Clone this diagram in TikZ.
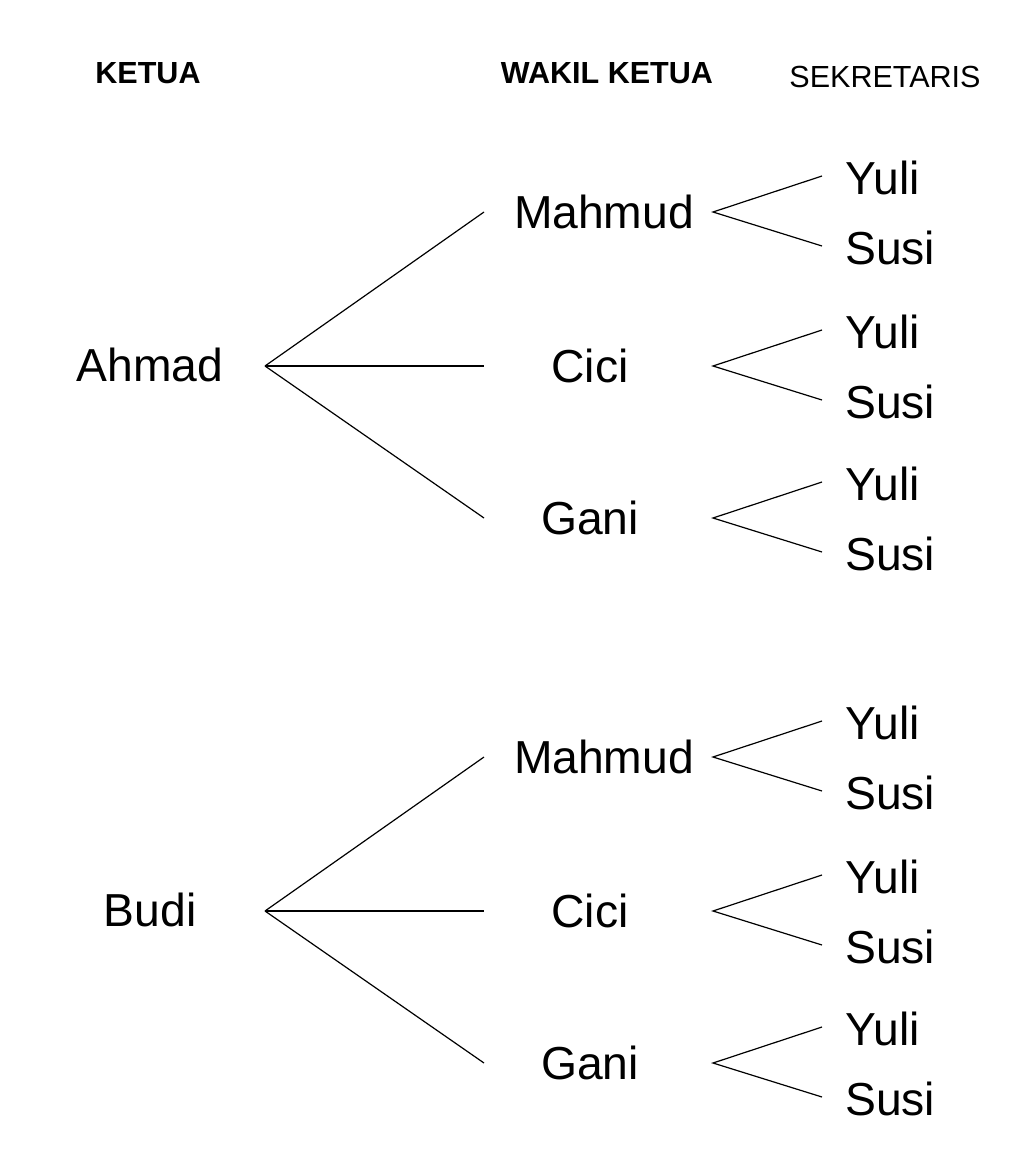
\documentclass[tikz,border=0pt]{standalone}
\usepackage{fontspec}
\setmainfont{Liberation Sans}
\begin{document}
\begin{tikzpicture}[x=0.75pt,y=-0.75pt,
  head/.style={font=\fontsize{22.9}{26}\selectfont\bfseries, inner sep=0pt},
  headn/.style={font=\fontsize{22.9}{26}\selectfont, inner sep=0pt},
  big/.style={font=\fontsize{34.7}{40}\selectfont, inner sep=0pt},
  leaf/.style={font=\fontsize{34.7}{40}\selectfont, inner sep=0pt, anchor=west},
  conn/.style={line width=0.9pt}]
\useasboundingbox (0,0) rectangle (1023,1161);
\fill[white] (0,0) rectangle (1023,1161);
\node[head] (hk) at (148,73) {KETUA};
\node[head] (hw) at (607,73) {WAKIL KETUA};
\node[headn] (hs) at (885,77) {SEKRETARIS};

\foreach \lv/\name/\dy in {A/Ahmad/0, B/Budi/545}{
  \node[big] (\lv) at (150,365+\dy) {\name};
  \coordinate (\lv s) at (265,366+\dy);
  \foreach \w/\wn/\wx/\wy in {1/Mahmud/604/212, 2/Cici/590/366, 3/Gani/590/518}{
    \node[big] (\lv\w) at (\wx,\wy+\dy) {\wn};
    \coordinate (\lv\w e) at (484,\wy+\dy);
    \coordinate (\lv\w s) at (713,\wy+\dy);
    \coordinate (\lv\w y) at (822,\wy-36+\dy);
    \coordinate (\lv\w z) at (822,\wy+34+\dy);
    \node[leaf] (\lv\w Y) at (845,\wy-34+\dy) {Yuli};
    \node[leaf] (\lv\w S) at (845,\wy+36+\dy) {Susi};
    \draw[conn] (\lv s) -- (\lv\w e);
    \draw[conn] (\lv\w y) -- (\lv\w s) -- (\lv\w z);
  }
}
\end{tikzpicture}
\end{document}
